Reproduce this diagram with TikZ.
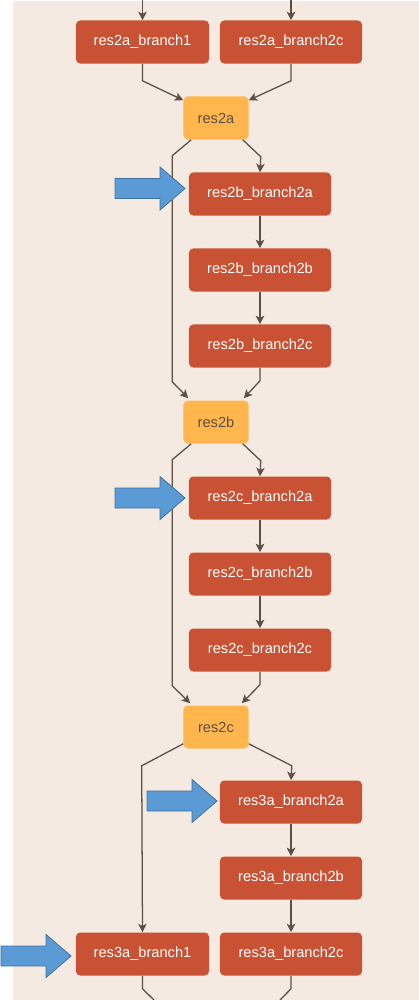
\documentclass[tikz,border=0pt]{standalone}
\usepackage{fontspec}
\setmainfont{Liberation Sans}
\usetikzlibrary{
  arrows.meta,
  calc,
  backgrounds
}
\definecolor{layerred}{RGB}{201,81,52}
\definecolor{sumyellow}{RGB}{255,183,77}
\definecolor{paper}{RGB}{245,234,225}
\definecolor{edgebrown}{RGB}{93,78,70}
\definecolor{ptrblue}{RGB}{91,155,213}
\definecolor{ptredge}{RGB}{65,113,156}
\tikzset{
  layer/.style={fill=layerred,text=white,rounded corners=3pt,inner sep=0pt,
    minimum height=1.075cm,font=\fontsize{10.4}{12}\selectfont},
  brone/.style={layer,minimum width=3.325cm},
  brtwo/.style={layer,minimum width=3.55cm},
  sumnode/.style={layer,fill=sumyellow,text=edgebrown,minimum width=1.625cm},
  edge/.style={draw=edgebrown,line width=0.9pt},
  ptr/.pic={\draw[fill=ptrblue,draw=ptredge,line width=0.6pt]
    (-35,-10) -- (10,-10) -- (10,-21.5) -- (35,0) -- (10,21.5) -- (10,10) -- (-35,10) -- cycle;}
}

\begin{document}
\begin{tikzpicture}[x=0.025cm,y=-0.025cm,>={Stealth[length=6pt,width=6pt,inset=1.5pt]}]
  \useasboundingbox (0,0) rectangle (419,1000);
  \fill[paper] (13,1) rectangle (419,1000);
  % stage res2
  \node[brone] (b2a1)   at (142.5,42) {res2a\_branch1};
  \node[brtwo] (b2a2c)  at (291,42)   {res2a\_branch2c};
  \node[sumnode] (s2a)  at (216,118)  {res2a};
  \node[brtwo] (b2b2a)  at (260,194)  {res2b\_branch2a};
  \node[brtwo] (b2b2b)  at (260,270)  {res2b\_branch2b};
  \node[brtwo] (b2b2c)  at (260,346)  {res2b\_branch2c};
  \node[sumnode] (s2b)  at (216,422)  {res2b};
  \node[brtwo] (b2c2a)  at (260,498)  {res2c\_branch2a};
  \node[brtwo] (b2c2b)  at (260,574)  {res2c\_branch2b};
  \node[brtwo] (b2c2c)  at (260,650)  {res2c\_branch2c};
  \node[sumnode] (s2c)  at (216,727)  {res2c};
  % stage res3
  \node[brtwo] (b3a2a)  at (291,802)  {res3a\_branch2a};
  \node[brtwo] (b3a2b)  at (291,878)  {res3a\_branch2b};
  \node[brone] (b3a1)   at (142.5,954){res3a\_branch1};
  \node[brtwo] (b3a2c)  at (291,954)  {res3a\_branch2c};
  \coordinate (in1)  at (142.5,0);
  \coordinate (in2)  at (291,0);
  \coordinate (out1) at (154,1000);
  \coordinate (out2) at (280,1000);
  % connectors
  \foreach \u/\v in {in1/b2a1,in2/b2a2c,b2b2a/b2b2b,b2b2b/b2b2c,
                     b2c2a/b2c2b,b2c2b/b2c2c,b3a2a/b3a2b,b3a2b/b3a2c}
    \draw[edge,->] (\u) -- (\v);
  \draw[edge,->] (b2a1.south) -- ++(0,17) -- ($(s2a.north west)+(0,4)$);
  \draw[edge,->] (b2a2c.south) -- ++(0,17) -- ($(s2a.north east)+(0,4)$);
  \draw[edge,->] ($(s2a.south west)+(8,0)$) -- ++(-19,16) -- ++(0,226) -- ($(s2b.north west)+(5,-2)$);
  \draw[edge,->] ($(s2a.south east)+(-6,0)$) -- ++(18,17) -- (b2b2a.north);
  \draw[edge,->] (b2b2c.south) -- ++(0,13) -- ($(s2b.north east)+(-5,-2)$);
  \draw[edge,->] ($(s2b.south west)+(8,0)$) -- ++(-19,16) -- ++(0,226) -- ($(s2c.north west)+(7,-2)$);
  \draw[edge,->] ($(s2b.south east)+(-6,0)$) -- ++(18,17) -- (b2c2a.north);
  \draw[edge,->] (b2c2c.south) -- ++(0,13) -- ($(s2c.north east)+(-7,-2)$);
  \draw[edge,->] ($(s2c.south west)+(0,-5)$) -- ++(-41.5,22) -- (b3a1.north);
  \draw[edge,->] ($(s2c.south east)+(0,-5)$) -- ++(43,22) -- (b3a2a.north);
  \draw[edge] (b3a1.south) -- ++(0,13) -- (out1);
  \draw[edge] (b3a2c.south) -- ++(0,13) -- (out2);
  % pointers
  \pic (p1) at (150,188.5) {ptr};
  \pic (p2) at (150,498)   {ptr};
  \pic (p3) at (182,801)   {ptr};
  \pic (p4) at (36,956)    {ptr};
\end{tikzpicture}
\end{document}
